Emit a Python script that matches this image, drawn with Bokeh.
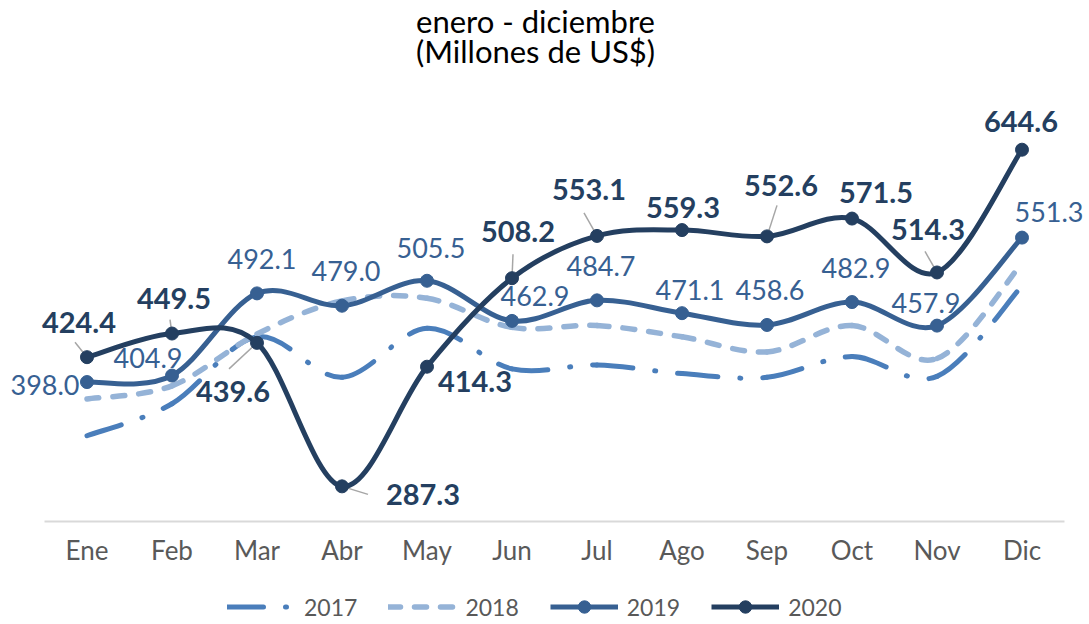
from bokeh.plotting import figure
from bokeh.models import Range1d, Label, LabelSet, LegendItem, Legend, FixedTicker, ColumnDataSource
from bokeh.core.properties import value
from bokeh.embed import file_html
from bokeh.resources import INLINE

# ---------------- data ----------------
months = ["Ene", "Feb", "Mar", "Abr", "May", "Jun", "Jul", "Ago", "Sep", "Oct", "Nov", "Dic"]
y2017 = [341, 375, 446, 403, 455, 412, 416, 407, 403, 425, 404, 500]
y2018 = [380, 394, 449, 484, 487, 456, 458, 446, 430, 458, 423, 524]
y2019 = [398.0, 404.9, 492.1, 479.0, 505.5, 462.9, 484.7, 471.1, 458.6, 482.9, 457.9, 551.3]
y2020 = [424.4, 449.5, 439.6, 287.3, 414.3, 508.2, 553.1, 559.3, 552.6, 571.5, 514.3, 644.6]
series_names = ["2017", "2018", "2019", "2020"]
title_lines = ["enero - diciembre", "(Millones de US$)"]

# ---------------- styles ----------------
C2017 = "#4A7EBB"
C2018 = "#95B3D7"
C2019 = "#376092"
C2020 = "#243F60"
FONT = "Lato"

# label offsets in pixels (x right, y down) relative to the point
off2020 = [(-8, -35), (2, -35), (-24, 49), (81, 8), (48, 15), (6, -47),
           (-8, -46), (1, -23), (14, -51), (24, -26), (-9, -43), (-1, -28)]
off2019 = [(-42, 3), (-24, -18), (5, -34), (4, -35), (4, -33), (23, -25),
           (4, -34), (8, -23), (3, -35), (4, -34), (-11, -23), (27, -26)]
# leader lines for 2020 labels: index -> pixel offset of far end
leaders2020 = {0: (-12, -15), 1: (-2, -14), 2: (-28, 26), 3: (26, 8),
               5: (1, -24), 6: (-13, -23), 8: (10, -31), 10: (-12, -21)}

# ---------------- layout ----------------
W, H = 1089, 624
AXIS_LEFT_PX = 44      # where the category axis starts
AXIS_Y_PX = 521        # vertical pixel of the category axis line
CAT_PX = 85            # width of one category
VAL_PX = 424 / 450     # pixels per unit on the value scale
X0, X1 = -0.5, 11.5    # category band limits
Y0 = 250               # value at the axis line

x_lo = X0 - AXIS_LEFT_PX / CAT_PX
x_hi = x_lo + W / CAT_PX
y_lo = Y0 - (H - AXIS_Y_PX) / VAL_PX
y_hi = Y0 + AXIS_Y_PX / VAL_PX

TITLE_CX = 535
TITLE_BASE = [20, 50]

xs = list(range(len(months)))


def bezier_cols(ys):
    n = len(ys)
    d = dict(x0=[], y0=[], x1=[], y1=[], cx0=[], cy0=[], cx1=[], cy1=[])
    for i in range(n - 1):
        a = max(i - 1, 0)
        b = min(i + 2, n - 1)
        d["x0"].append(xs[i]); d["y0"].append(ys[i])
        d["x1"].append(xs[i + 1]); d["y1"].append(ys[i + 1])
        d["cx0"].append(xs[i] + (xs[i + 1] - xs[a]) / 6)
        d["cy0"].append(ys[i] + (ys[i + 1] - ys[a]) / 6)
        d["cx1"].append(xs[i + 1] - (xs[b] - xs[i]) / 6)
        d["cy1"].append(ys[i + 1] - (ys[b] - ys[i]) / 6)
    return ColumnDataSource(d)


p = figure(width=W, height=H, output_backend="svg", toolbar_location=None, title=None,
           x_range=Range1d(x_lo, x_hi), y_range=Range1d(y_lo, y_hi),
           y_axis_location=None, min_border=0)
p.outline_line_color = None
p.grid.visible = False
p.background_fill_color = "white"
p.border_fill_color = "white"

xa = p.xaxis[0]
xa.fixed_location = Y0
xa.bounds = (X0, X1)
xa.ticker = FixedTicker(ticks=xs)
xa.major_label_overrides = {i: m for i, m in enumerate(months)}
xa.axis_line_color = "#D9D9D9"
xa.axis_line_width = 2
xa.major_tick_line_color = None
xa.minor_tick_line_color = None
xa.major_tick_out = 0
xa.major_tick_in = 0
xa.major_label_text_font = FONT
xa.major_label_text_font_size = "26px"
xa.major_label_text_color = "#595959"
xa.major_label_standoff = 12

bez = dict(x0="x0", y0="y0", x1="x1", y1="y1", cx0="cx0", cy0="cy0", cx1="cx1", cy1="cy1")
st17 = dict(line_color=C2017, line_width=5, line_dash="36 22 1 22", line_cap="round")
st18 = dict(line_color=C2018, line_width=5.5, line_dash="12 14", line_cap="round")
st19 = dict(line_color=C2019, line_width=5)
st20 = dict(line_color=C2020, line_width=5)

p.bezier(source=bezier_cols(y2017), **st17, **bez)
p.bezier(source=bezier_cols(y2018), **st18, **bez)
p.bezier(source=bezier_cols(y2019), **st19, **bez)

# leader lines (2020)
lx0, ly0, lx1, ly1 = [], [], [], []
for i, (dx, dy) in leaders2020.items():
    lx0.append(xs[i]); ly0.append(y2020[i])
    lx1.append(xs[i] + dx / CAT_PX); ly1.append(y2020[i] - dy / VAL_PX)
p.segment(x0=lx0, y0=ly0, x1=lx1, y1=ly1, line_color="#A6A6A6", line_width=1.5)

p.bezier(source=bezier_cols(y2020), **st20, **bez)

s2019 = p.scatter(x=xs, y=y2019, size=13, color=C2019)
s2020 = p.scatter(x=xs, y=y2020, size=13, color=C2020)

# data labels
lab19 = ColumnDataSource(dict(x=xs, y=y2019, t=[f"{v:.1f}" for v in y2019],
                              xo=[o[0] for o in off2019], yo=[-o[1] for o in off2019]))
p.add_layout(LabelSet(x="x", y="y", text="t", x_offset="xo", y_offset="yo", source=lab19,
                      text_font=value(FONT), text_font_size=value("27px"), text_color=C2019,
                      text_align="center", text_baseline="middle"))
lab20 = ColumnDataSource(dict(x=xs, y=y2020, t=[f"{v:.1f}" for v in y2020],
                              xo=[o[0] for o in off2020], yo=[-o[1] for o in off2020]))
p.add_layout(LabelSet(x="x", y="y", text="t", x_offset="xo", y_offset="yo", source=lab20,
                      text_font=value(FONT), text_font_size=value("29px"), text_font_style="bold",
                      text_color=C2020, text_align="center", text_baseline="middle"))

# title
tx = X0 + (TITLE_CX - AXIS_LEFT_PX) / CAT_PX
for txt, by in zip(title_lines, TITLE_BASE):
    ty = Y0 + (AXIS_Y_PX - by) / VAL_PX
    p.add_layout(Label(x=tx, y=ty, text=txt, text_font=FONT, text_font_size="31px",
                       text_color="#000000", text_align="center", text_baseline="alphabetic"))

# legend (placeholder lines carry the styles; a single NaN point draws nothing on the plot)
nan = float("nan")
d17 = p.line(x=[xs[0]], y=[nan], **st17)
d18 = p.line(x=[xs[0]], y=[nan], **st18)
d19 = p.line(x=[xs[0]], y=[nan], **st19)
d20 = p.line(x=[xs[0]], y=[nan], **st20)
legend = Legend(items=[LegendItem(label=series_names[0], renderers=[d17]),
                       LegendItem(label=series_names[1], renderers=[d18]),
                       LegendItem(label=series_names[2], renderers=[d19, s2019]),
                       LegendItem(label=series_names[3], renderers=[d20, s2020])],
                orientation="horizontal", location=(227, 2),
                glyph_width=68, glyph_height=31, label_standoff=9, spacing=31,
                padding=0, margin=0, border_line_color=None, background_fill_alpha=0,
                label_text_font=FONT, label_text_font_size="23px", label_text_color="#595959")
p.add_layout(legend, "center")

open("out.html", "w").write(file_html(p, INLINE))
